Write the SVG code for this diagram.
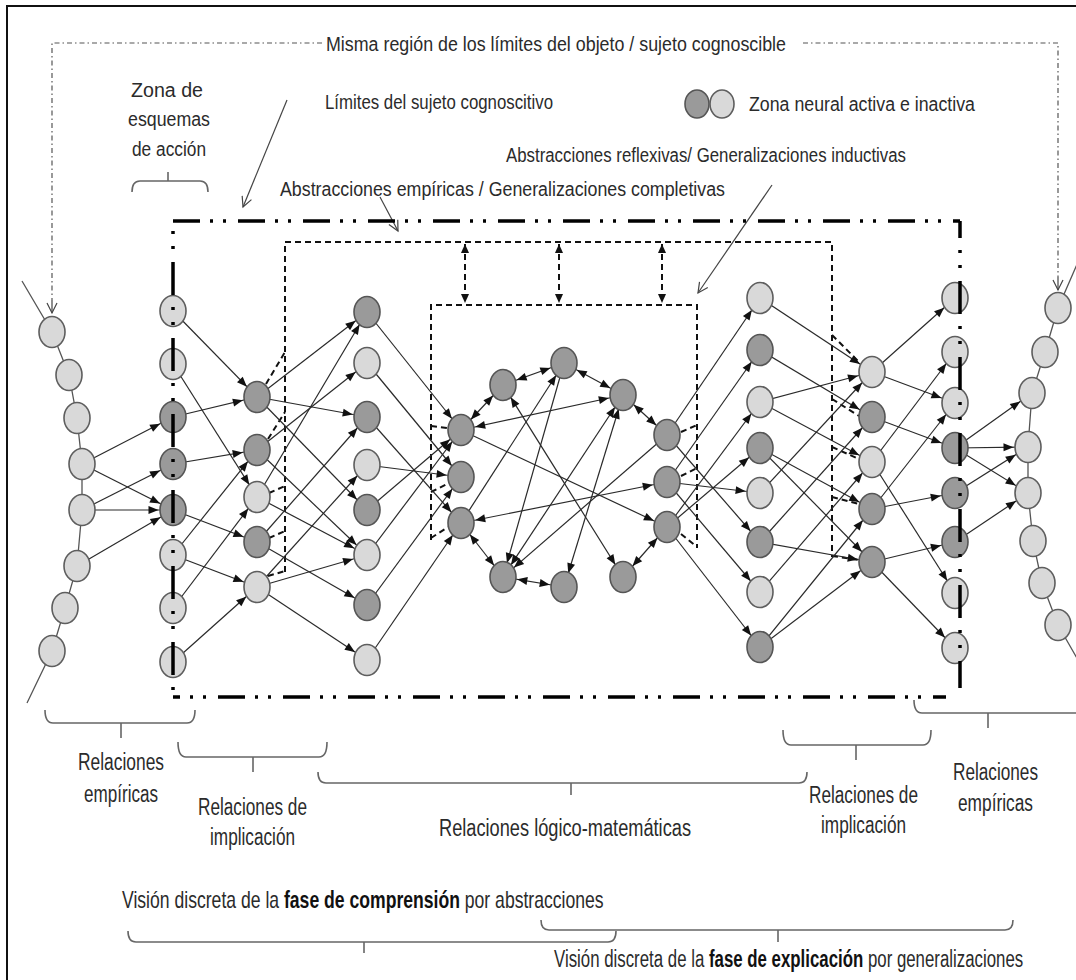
<svg xmlns="http://www.w3.org/2000/svg" width="1076" height="980" viewBox="0 0 1076 980">
<style>
.t{font-family:"Liberation Sans",Arial,sans-serif;font-size:20px;fill:#2b2b2b}
.tb{font-family:"Liberation Sans",Arial,sans-serif;font-size:23px;fill:#2b2b2b}
.b{font-weight:bold;fill:#111}
.lt{fill:#d9d9d9;stroke:#5e5e5e;stroke-width:1.6}
.dk{fill:#9a9a9a;stroke:#555;stroke-width:1.6}
.e{stroke:#2a2a2a;stroke-width:1.2;fill:none;marker-end:url(#ah)}
.d2{stroke:#2a2a2a;stroke-width:1.2;fill:none;marker-start:url(#as);marker-end:url(#ah)}
.ch{stroke:#555;stroke-width:1.3;fill:none}
.ds{stroke:#111;stroke-width:2;stroke-dasharray:6 4;fill:none}
.dd{stroke:#111;stroke-width:2;stroke-dasharray:6 4;fill:none;marker-start:url(#dh);marker-end:url(#dh)}
.bh{stroke:#000;stroke-width:3.5;fill:none;stroke-dasharray:27 10 3 10 3 12}
.bv{stroke:#000;stroke-width:3.5;fill:none;stroke-dasharray:33 12 3 12 3 13}
.br{stroke:#666;stroke-width:1.6;fill:none}
.th{stroke:#555;stroke-width:1.2;fill:none;stroke-dasharray:5 3 1.5 3}
.pt{stroke:#444;stroke-width:1.2;fill:none;marker-end:url(#oa)}
</style>
<defs>
<marker id="ah" markerUnits="userSpaceOnUse" markerWidth="30" markerHeight="10" refX="24.5" refY="4" orient="auto" overflow="visible"><path d="M0,0 L10,4 L0,8 z" fill="#111"/></marker>
<marker id="as" markerUnits="userSpaceOnUse" markerWidth="30" markerHeight="10" refX="24.5" refY="4" orient="auto-start-reverse" overflow="visible"><path d="M0,0 L10,4 L0,8 z" fill="#111"/></marker>
<marker id="dh" markerUnits="userSpaceOnUse" markerWidth="12" markerHeight="10" refX="9" refY="4" orient="auto-start-reverse" overflow="visible"><path d="M0,0 L9,4 L0,8 z" fill="#111"/></marker>
<marker id="oa" markerUnits="userSpaceOnUse" markerWidth="14" markerHeight="12" refX="11" refY="6" orient="auto" overflow="visible"><path d="M1,1 L11,6 L1,11" fill="none" stroke="#444" stroke-width="1.2"/></marker>
</defs>

<rect x="0" y="0" width="1076" height="980" fill="#fff"/>
<rect x="7" y="6" width="1090" height="1000" fill="none" stroke="#111" stroke-width="2"/>

<!-- object / subject region marker lines -->
<g id="region-lines">
<path class="th" d="M322,43 L52,43 L52,300"/>
<path class="pt" d="M52,300 L52,313"/>
<path class="th" d="M803,43 L1058,43 L1058,277"/>
<path class="pt" d="M1058,277 L1058,290"/>
</g>

<!-- labels -->
<g id="labels">
<text class="t" x="326" y="51" textLength="460" lengthAdjust="spacingAndGlyphs">Misma región de los límites del objeto / sujeto cognoscible</text>
<text class="t" x="131" y="97" font-size="22" textLength="72" lengthAdjust="spacingAndGlyphs">Zona de</text>
<text class="t" x="128" y="126" font-size="22" textLength="82" lengthAdjust="spacingAndGlyphs">esquemas</text>
<text class="t" x="132" y="156" font-size="22" textLength="74" lengthAdjust="spacingAndGlyphs">de acción</text>
<text class="t" x="325" y="109" textLength="228" lengthAdjust="spacingAndGlyphs">Límites del sujeto cognoscitivo</text>
<text class="t" x="749" y="111" textLength="226" lengthAdjust="spacingAndGlyphs">Zona neural activa e inactiva</text>
<text class="t" x="506" y="162" textLength="400" lengthAdjust="spacingAndGlyphs">Abstracciones reflexivas/ Generalizaciones inductivas</text>
<text class="t" x="280" y="196" textLength="445" lengthAdjust="spacingAndGlyphs">Abstracciones empíricas / Generalizaciones completivas</text>

<text class="tb" x="78" y="770" textLength="86" lengthAdjust="spacingAndGlyphs">Relaciones</text>
<text class="tb" x="84" y="802" textLength="74" lengthAdjust="spacingAndGlyphs">empíricas</text>
<text class="tb" x="198" y="815" textLength="109" lengthAdjust="spacingAndGlyphs">Relaciones de</text>
<text class="tb" x="210" y="845" textLength="85" lengthAdjust="spacingAndGlyphs">implicación</text>
<text class="tb" x="439" y="836" textLength="252" lengthAdjust="spacingAndGlyphs">Relaciones lógico-matemáticas</text>
<text class="tb" x="809" y="803" textLength="109" lengthAdjust="spacingAndGlyphs">Relaciones de</text>
<text class="tb" x="821" y="833" textLength="85" lengthAdjust="spacingAndGlyphs">implicación</text>
<text class="tb" x="953" y="780" textLength="85" lengthAdjust="spacingAndGlyphs">Relaciones</text>
<text class="tb" x="958" y="811" textLength="75" lengthAdjust="spacingAndGlyphs">empíricas</text>

<!-- phase captions, narrowed horizontally -->
<text class="tb" transform="translate(122,908) scale(0.765,1)">Visión discreta de la <tspan class="b">fase de comprensión</tspan> por abstracciones</text>
<text class="tb" transform="translate(554,967) scale(0.732,1)">Visión discreta de la <tspan class="b">fase de explicación</tspan> por generalizaciones</text>
</g>

<!-- label pointers -->
<g id="pointers">
<line class="pt" x1="287" y1="100" x2="243" y2="207"/>
<line class="pt" x1="380" y1="197" x2="398" y2="231"/>
<line class="pt" x1="772" y1="185" x2="698" y2="293"/>
</g>

<!-- braces -->
<g id="braces">
<path class="br" d="M132,192 Q132,181 140,181 L200,181 Q208,181 208,192 M168,181 L168,172"/>
<path class="br" d="M45,710 Q45,723 53,723 L187,723 Q195,723 195,710 M121,723 L121,738"/>
<path class="br" d="M178,742 Q178,757 186,757 L319,757 Q327,757 327,742 M253,757 L253,772"/>
<path class="br" d="M318,772 Q318,783 326,783 L799,783 Q807,783 807,772 M571,783 L571,795"/>
<path class="br" d="M783,730 Q783,745 791,745 L923,745 Q931,745 931,730 M856,745 L856,760"/>
<path class="br" d="M914,700 Q914,713 922,713 L1090,713 M988,713 L988,728"/>
<path class="br" d="M128,931 Q128,942 136,942 L608,942 Q616,942 616,931 M364,942 L364,953"/>
<path class="br" d="M541,920 Q541,930 549,930 L1005,930 Q1013,930 1013,920 M778,930 L778,942"/>
</g>

<!-- abstraction / generalization boxes -->
<g id="dashed-boxes">
<path class="ds" d="M285,572 L285,242 L832,242 L832,557"/>
<path class="ds" d="M431,540 L431,305 L697,305 L697,548"/>
<line class="dd" x1="465" y1="244" x2="465" y2="303"/>
<line class="dd" x1="559" y1="244" x2="559" y2="303"/>
<line class="dd" x1="662" y1="244" x2="662" y2="303"/>
<line class="ds" x1="266" y1="384" x2="285" y2="352"/>
<line class="ds" x1="268" y1="439" x2="285" y2="412"/>
<line class="ds" x1="269" y1="493" x2="285" y2="486"/>
<line class="ds" x1="269" y1="538" x2="285" y2="531"/>
<line class="ds" x1="268" y1="576" x2="285" y2="571"/>
<line class="ds" x1="431" y1="426" x2="447" y2="428"/>
<line class="ds" x1="431" y1="492" x2="449" y2="483"/>
<line class="ds" x1="431" y1="538" x2="448" y2="527"/>
<line class="ds" x1="681" y1="432" x2="697" y2="425"/>
<line class="ds" x1="681" y1="476" x2="697" y2="468"/>
<line class="ds" x1="681" y1="534" x2="697" y2="547"/>
<line class="ds" x1="832" y1="335" x2="859" y2="362"/>
<line class="ds" x1="832" y1="399" x2="859" y2="416"/>
<line class="ds" x1="832" y1="447" x2="859" y2="459"/>
<line class="ds" x1="832" y1="497" x2="859" y2="504"/>
<line class="ds" x1="832" y1="556" x2="859" y2="560"/>
</g>

<!-- connectors -->
<g id="connectors">
<polyline class="ch" points="22,281 52,332 69,375 77,418 82,464 82,510 77,566 65,608 52,651 27,703"/>
<polyline class="ch" points="1078,262 1058,308 1045,352 1032,393 1028,447 1028,493 1033,541 1042,583 1058,625 1078,660"/>

<line class="e" x1="82" y1="464" x2="173" y2="417"/>
<line class="e" x1="82" y1="464" x2="173" y2="510"/>
<line class="e" x1="82" y1="510" x2="173" y2="464"/>
<line class="e" x1="82" y1="510" x2="173" y2="510"/>
<line class="e" x1="77" y1="566" x2="173" y2="510"/>

<line class="e" x1="173" y1="311" x2="257" y2="397"/>
<line class="e" x1="173" y1="364" x2="257" y2="497"/>
<line class="e" x1="173" y1="417" x2="257" y2="397"/>
<line class="e" x1="173" y1="464" x2="257" y2="450"/>
<line class="e" x1="173" y1="510" x2="257" y2="542"/>
<line class="e" x1="173" y1="555" x2="257" y2="450"/>
<line class="e" x1="173" y1="555" x2="257" y2="587"/>
<line class="e" x1="173" y1="608" x2="257" y2="497"/>
<line class="e" x1="173" y1="662" x2="257" y2="587"/>

<line class="e" x1="257" y1="397" x2="367" y2="312"/>
<line class="e" x1="257" y1="397" x2="367" y2="417"/>
<line class="e" x1="257" y1="397" x2="367" y2="510"/>
<line class="e" x1="257" y1="450" x2="367" y2="363"/>
<line class="e" x1="257" y1="450" x2="367" y2="555"/>
<line class="e" x1="257" y1="497" x2="367" y2="312"/>
<line class="e" x1="257" y1="497" x2="367" y2="555"/>
<line class="e" x1="257" y1="542" x2="367" y2="417"/>
<line class="e" x1="257" y1="542" x2="367" y2="605"/>
<line class="e" x1="257" y1="587" x2="367" y2="465"/>
<line class="e" x1="257" y1="587" x2="367" y2="555"/>
<line class="e" x1="257" y1="587" x2="367" y2="660"/>

<line class="e" x1="367" y1="312" x2="461" y2="430"/>
<line class="e" x1="367" y1="363" x2="461" y2="477"/>
<line class="e" x1="367" y1="417" x2="461" y2="523"/>
<line class="e" x1="367" y1="465" x2="461" y2="477"/>
<line class="e" x1="367" y1="510" x2="461" y2="430"/>
<line class="e" x1="367" y1="555" x2="461" y2="430"/>
<line class="e" x1="367" y1="605" x2="461" y2="477"/>
<line class="e" x1="367" y1="660" x2="461" y2="523"/>

<line class="e" x1="461" y1="430" x2="667" y2="527"/>
<line class="e" x1="564" y1="363" x2="503" y2="577"/>
<line class="e" x1="667" y1="435" x2="503" y2="577"/>
<line class="e" x1="461" y1="523" x2="564" y2="363"/>
<line class="d2" x1="461" y1="430" x2="503" y2="385"/>
<line class="d2" x1="503" y1="385" x2="564" y2="363"/>
<line class="d2" x1="564" y1="363" x2="623" y2="395"/>
<line class="d2" x1="623" y1="395" x2="667" y2="435"/>
<line class="d2" x1="461" y1="523" x2="503" y2="577"/>
<line class="d2" x1="503" y1="577" x2="564" y2="587"/>
<line class="d2" x1="623" y1="577" x2="667" y2="527"/>
<line class="d2" x1="461" y1="430" x2="623" y2="395"/>
<line class="d2" x1="461" y1="523" x2="667" y2="482"/>
<line class="d2" x1="503" y1="385" x2="623" y2="577"/>
<line class="d2" x1="623" y1="395" x2="503" y2="577"/>
<line class="d2" x1="623" y1="395" x2="564" y2="587"/>

<line class="e" x1="667" y1="435" x2="760" y2="298"/>
<line class="e" x1="667" y1="435" x2="760" y2="542"/>
<line class="e" x1="667" y1="482" x2="760" y2="350"/>
<line class="e" x1="667" y1="482" x2="760" y2="493"/>
<line class="e" x1="667" y1="482" x2="760" y2="592"/>
<line class="e" x1="667" y1="527" x2="760" y2="402"/>
<line class="e" x1="667" y1="527" x2="760" y2="448"/>
<line class="e" x1="667" y1="527" x2="760" y2="647"/>

<line class="e" x1="760" y1="298" x2="872" y2="372"/>
<line class="e" x1="760" y1="350" x2="872" y2="417"/>
<line class="e" x1="760" y1="402" x2="872" y2="372"/>
<line class="e" x1="760" y1="402" x2="872" y2="462"/>
<line class="e" x1="760" y1="448" x2="872" y2="509"/>
<line class="e" x1="760" y1="448" x2="872" y2="562"/>
<line class="e" x1="760" y1="493" x2="872" y2="372"/>
<line class="e" x1="760" y1="542" x2="872" y2="417"/>
<line class="e" x1="760" y1="542" x2="872" y2="562"/>
<line class="e" x1="760" y1="592" x2="872" y2="462"/>
<line class="e" x1="760" y1="647" x2="872" y2="509"/>
<line class="e" x1="760" y1="647" x2="872" y2="562"/>

<line class="e" x1="872" y1="372" x2="955" y2="298"/>
<line class="e" x1="872" y1="372" x2="955" y2="403"/>
<line class="e" x1="872" y1="417" x2="955" y2="448"/>
<line class="e" x1="872" y1="462" x2="955" y2="352"/>
<line class="e" x1="872" y1="462" x2="955" y2="593"/>
<line class="e" x1="872" y1="509" x2="955" y2="403"/>
<line class="e" x1="872" y1="509" x2="955" y2="493"/>
<line class="e" x1="872" y1="562" x2="955" y2="542"/>
<line class="e" x1="872" y1="562" x2="955" y2="648"/>

<line class="e" x1="955" y1="448" x2="1032" y2="393"/>
<line class="e" x1="955" y1="448" x2="1028" y2="447"/>
<line class="e" x1="955" y1="448" x2="1028" y2="493"/>
<line class="e" x1="955" y1="493" x2="1028" y2="447"/>
<line class="e" x1="955" y1="542" x2="1028" y2="493"/>
</g>

<!-- legend -->
<g id="legend-active"><ellipse class="dk" cx="697" cy="104" rx="12" ry="14"/></g>
<g id="legend-inactive"><ellipse class="lt" cx="722" cy="104" rx="12" ry="14"/></g>

<!-- left empirical chain -->
<g id="l1"><ellipse class="lt" cx="52" cy="332" rx="13" ry="15.5"/></g>
<g id="l2"><ellipse class="lt" cx="69" cy="375" rx="13" ry="15.5"/></g>
<g id="l3"><ellipse class="lt" cx="77" cy="418" rx="13" ry="15.5"/></g>
<g id="l4"><ellipse class="lt" cx="82" cy="464" rx="13" ry="15.5"/></g>
<g id="l5"><ellipse class="lt" cx="82" cy="510" rx="13" ry="15.5"/></g>
<g id="l6"><ellipse class="lt" cx="77" cy="566" rx="13" ry="15.5"/></g>
<g id="l7"><ellipse class="lt" cx="65" cy="608" rx="13" ry="15.5"/></g>
<g id="l8"><ellipse class="lt" cx="52" cy="651" rx="13" ry="15.5"/></g>

<!-- action schema column -->
<g id="a1"><ellipse class="lt" cx="173" cy="311" rx="13" ry="15.5"/></g>
<g id="a2"><ellipse class="lt" cx="173" cy="364" rx="13" ry="15.5"/></g>
<g id="a3"><ellipse class="dk" cx="173" cy="417" rx="13" ry="15.5"/></g>
<g id="a4"><ellipse class="dk" cx="173" cy="464" rx="13" ry="15.5"/></g>
<g id="a5"><ellipse class="dk" cx="173" cy="510" rx="13" ry="15.5"/></g>
<g id="a6"><ellipse class="lt" cx="173" cy="555" rx="13" ry="15.5"/></g>
<g id="a7"><ellipse class="lt" cx="173" cy="608" rx="13" ry="15.5"/></g>
<g id="a8"><ellipse class="lt" cx="173" cy="662" rx="13" ry="15.5"/></g>

<!-- implication column (left) -->
<g id="b1"><ellipse class="dk" cx="257" cy="397" rx="13" ry="15.5"/></g>
<g id="b2"><ellipse class="dk" cx="257" cy="450" rx="13" ry="15.5"/></g>
<g id="b3"><ellipse class="lt" cx="257" cy="497" rx="13" ry="15.5"/></g>
<g id="b4"><ellipse class="dk" cx="257" cy="542" rx="13" ry="15.5"/></g>
<g id="b5"><ellipse class="lt" cx="257" cy="587" rx="13" ry="15.5"/></g>

<g id="c1"><ellipse class="dk" cx="367" cy="312" rx="13" ry="15.5"/></g>
<g id="c2"><ellipse class="lt" cx="367" cy="363" rx="13" ry="15.5"/></g>
<g id="c3"><ellipse class="dk" cx="367" cy="417" rx="13" ry="15.5"/></g>
<g id="c4"><ellipse class="lt" cx="367" cy="465" rx="13" ry="15.5"/></g>
<g id="c5"><ellipse class="dk" cx="367" cy="510" rx="13" ry="15.5"/></g>
<g id="c6"><ellipse class="lt" cx="367" cy="555" rx="13" ry="15.5"/></g>
<g id="c7"><ellipse class="dk" cx="367" cy="605" rx="13" ry="15.5"/></g>
<g id="c8"><ellipse class="lt" cx="367" cy="660" rx="13" ry="15.5"/></g>

<!-- logico-mathematical core -->
<g id="d1"><ellipse class="dk" cx="461" cy="430" rx="13" ry="15.5"/></g>
<g id="d2"><ellipse class="dk" cx="461" cy="477" rx="13" ry="15.5"/></g>
<g id="d3"><ellipse class="dk" cx="461" cy="523" rx="13" ry="15.5"/></g>
<g id="t1"><ellipse class="dk" cx="503" cy="385" rx="13" ry="15.5"/></g>
<g id="t2"><ellipse class="dk" cx="564" cy="363" rx="13" ry="15.5"/></g>
<g id="t3"><ellipse class="dk" cx="623" cy="395" rx="13" ry="15.5"/></g>
<g id="u1"><ellipse class="dk" cx="503" cy="577" rx="13" ry="15.5"/></g>
<g id="u2"><ellipse class="dk" cx="564" cy="587" rx="13" ry="15.5"/></g>
<g id="u3"><ellipse class="dk" cx="623" cy="577" rx="13" ry="15.5"/></g>
<g id="e1"><ellipse class="dk" cx="667" cy="435" rx="13" ry="15.5"/></g>
<g id="e2"><ellipse class="dk" cx="667" cy="482" rx="13" ry="15.5"/></g>
<g id="e3"><ellipse class="dk" cx="667" cy="527" rx="13" ry="15.5"/></g>

<g id="f1"><ellipse class="lt" cx="760" cy="298" rx="13" ry="15.5"/></g>
<g id="f2"><ellipse class="dk" cx="760" cy="350" rx="13" ry="15.5"/></g>
<g id="f3"><ellipse class="lt" cx="760" cy="402" rx="13" ry="15.5"/></g>
<g id="f4"><ellipse class="dk" cx="760" cy="448" rx="13" ry="15.5"/></g>
<g id="f5"><ellipse class="lt" cx="760" cy="493" rx="13" ry="15.5"/></g>
<g id="f6"><ellipse class="dk" cx="760" cy="542" rx="13" ry="15.5"/></g>
<g id="f7"><ellipse class="lt" cx="760" cy="592" rx="13" ry="15.5"/></g>
<g id="f8"><ellipse class="dk" cx="760" cy="647" rx="13" ry="15.5"/></g>

<!-- implication column (right) -->
<g id="g1"><ellipse class="lt" cx="872" cy="372" rx="13" ry="15.5"/></g>
<g id="g2"><ellipse class="dk" cx="872" cy="417" rx="13" ry="15.5"/></g>
<g id="g3"><ellipse class="lt" cx="872" cy="462" rx="13" ry="15.5"/></g>
<g id="g4"><ellipse class="dk" cx="872" cy="509" rx="13" ry="15.5"/></g>
<g id="g5"><ellipse class="dk" cx="872" cy="562" rx="13" ry="15.5"/></g>

<g id="h1"><ellipse class="lt" cx="955" cy="298" rx="13" ry="15.5"/></g>
<g id="h2"><ellipse class="lt" cx="955" cy="352" rx="13" ry="15.5"/></g>
<g id="h3"><ellipse class="lt" cx="955" cy="403" rx="13" ry="15.5"/></g>
<g id="h4"><ellipse class="dk" cx="955" cy="448" rx="13" ry="15.5"/></g>
<g id="h5"><ellipse class="dk" cx="955" cy="493" rx="13" ry="15.5"/></g>
<g id="h6"><ellipse class="dk" cx="955" cy="542" rx="13" ry="15.5"/></g>
<g id="h7"><ellipse class="lt" cx="955" cy="593" rx="13" ry="15.5"/></g>
<g id="h8"><ellipse class="lt" cx="955" cy="648" rx="13" ry="15.5"/></g>

<!-- right empirical chain -->
<g id="r1"><ellipse class="lt" cx="1058" cy="308" rx="13" ry="15.5"/></g>
<g id="r2"><ellipse class="lt" cx="1045" cy="352" rx="13" ry="15.5"/></g>
<g id="r3"><ellipse class="lt" cx="1032" cy="393" rx="13" ry="15.5"/></g>
<g id="r4"><ellipse class="lt" cx="1028" cy="447" rx="13" ry="15.5"/></g>
<g id="r5"><ellipse class="lt" cx="1028" cy="493" rx="13" ry="15.5"/></g>
<g id="r6"><ellipse class="lt" cx="1033" cy="541" rx="13" ry="15.5"/></g>
<g id="r7"><ellipse class="lt" cx="1042" cy="583" rx="13" ry="15.5"/></g>
<g id="r8"><ellipse class="lt" cx="1058" cy="625" rx="13" ry="15.5"/></g>

<!-- limits of the cognitive subject (drawn over the boundary nodes) -->
<g id="subject-limits">
<path class="bh" d="M173,221 L960,221"/>
<path class="bh" d="M173,697 L946,697" stroke-dashoffset="20"/>
<path class="bv" d="M173,221 L173,697" stroke-dashoffset="35"/>
<path class="bv" d="M960,221 L960,688" stroke-dashoffset="16"/>
</g>
</svg>
